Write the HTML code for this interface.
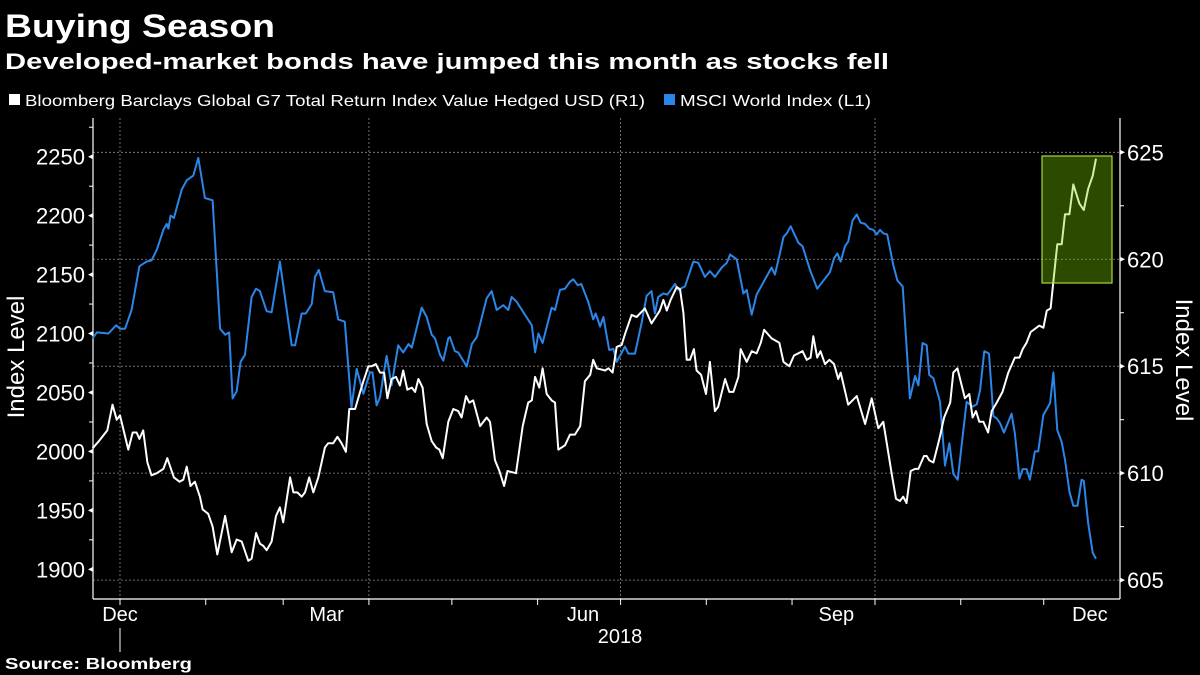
<!DOCTYPE html>
<html><head><meta charset="utf-8"><style>
html,body{margin:0;padding:0;background:#000;width:1200px;height:675px;overflow:hidden}
svg text{font-family:"Liberation Sans",sans-serif;fill:#fff}
</style></head><body>
<svg id="chart" width="1200" height="675" viewBox="0 0 1200 675" xmlns="http://www.w3.org/2000/svg">
<rect width="1200" height="675" fill="#000"/>
<text x="5" y="37" font-size="32" font-weight="bold" textLength="270" lengthAdjust="spacingAndGlyphs">Buying Season</text>
<text x="5" y="69" font-size="22" font-weight="bold" textLength="884" lengthAdjust="spacingAndGlyphs">Developed-market bonds have jumped this month as stocks fell</text>
<rect x="9" y="94" width="11" height="11" fill="#fff"/>
<text x="25" y="106" font-size="16" textLength="620" lengthAdjust="spacingAndGlyphs">Bloomberg Barclays Global G7 Total Return Index Value Hedged USD  (R1)</text>
<rect x="664" y="94" width="11" height="11" fill="#2a86e8"/>
<text x="680" y="106" font-size="16" textLength="191" lengthAdjust="spacingAndGlyphs">MSCI World Index  (L1)</text>
<g id="grid"></g>
<g id="axes"></g>
<g id="series"></g>
<rect x="1042" y="156" width="70" height="127" fill="rgba(128,214,0,0.35)" stroke="#a6d83c" stroke-width="1.2"/>
<text transform="translate(24,357) rotate(-90)" text-anchor="middle" font-size="24">Index Level</text>
<text transform="translate(1176,360) rotate(90)" text-anchor="middle" font-size="24">Index Level</text>
<text x="620" y="643" text-anchor="middle" font-size="20">2018</text>
<line x1="120" y1="628" x2="120" y2="652" stroke="#fff" stroke-width="1"/>
<text x="5" y="669" font-size="16" font-weight="bold" textLength="187" lengthAdjust="spacingAndGlyphs">Source: Bloomberg</text>
</svg>
<script>
// MSCI World Index (left axis) — day offset from 2018-01-01, value
const msciDays = [-9.9,-8.4,-4.2,-1.4,0,1.8,4.2,7.0,9.6,11.4,13.3,15.7,16.9,17.5,18.3,19.5,22.3,24.1,26.5,28.3,30.7,33.5,36.2,38.0,39.5,40.7,42.2,43.6,45.2,47.6,49.2,50.6,53.0,54.8,57.8,62.1,63.3,65.7,67.2,69.3,70.5,71.9,74.1,77.1,78.9,81.3,83.7,85.6,88.0,90.4,91.3,92.8,
94.0,96.4,98.2,100.6,102.4,104.3,105.5,109.1,110.9,112.7,113.9,115.7,116.9,118.7,119.3,121.1,122.3,125.4,127.2,129.0,132.6,134.4,136.2,138.6,140.4,141.6,143.4,146.4,148.9,150.1,151.3,152.8,156.1,157.3,159.1,160.9,162.7,163.9,165.5,166.8,169.3,171.1,172.0,173.6,174.8,176.9,178.4,179.6,182.6,183.8,186.2,188.6,190.4,192.2,193.4,194.6,196.5,197.9,200.7,201.9,204.3,207.3,209.1,211.5,213.3,215.1,217.6,219.4,220.6,223.0,225.4,226.6,228.4,230.2,235.6,236.8,
238.6,239.9,241.1,242.5,245.3,246.8,249.5,252.1,256.7,258.2,259.4,260.6,262.1,263.3,264.9,266.4,267.8,269.4,270.9,272.4,273.6,274.8,276.0,277.4,279.6,281.1,283.0,285.6,287.5,288.7,290.2,291.7,292.6,294.1,296.5,298.3,299.9,301.3,302.9,306.1,308.3,309.8,311.0,312.5,314.2,315.8,317.0,318.2,319.6,322.4,323.6,325.2,326.4,327.8,329.0,330.8,332.0,333.9,336.3,337.5,338.9,340.5,341.7,343.3,344.7,346.2,347.7,348.5,350.1,351.7,352.9];
const msciValues = [2096,2101,2100,2107,2104,2104,2120,2157,2161,2162,2171,2188,2193,2189,2200,2198,2222,2230,2234,2249,2215,2213,2104,2099,2101,2045,2051,2076,2082,2131,2138,2136,2119,2118,2161,2090,2090,2117,2117,2125,2148,2154,2136,2135,2112,2110,2037,2070,2049,2067,2067,2039,
2046,2081,2056,2090,2084,2091,2088,2122,2114,2099,2096,2082,2077,2096,2097,2085,2084,2072,2091,2097,2130,2136,2120,2124,2120,2131,2127,2116,2107,2084,2100,2092,2122,2120,2137,2138,2144,2146,2141,2142,2127,2112,2117,2106,2114,2086,2087,2076,2089,2083,2083,2109,2132,2136,2117,2131,2134,2133,2142,2137,2140,2161,2160,2148,2153,2148,2156,2160,2167,2163,2134,2137,2116,2133,2156,2150,
2168,2182,2185,2191,2177,2174,2154,2138,2152,2164,2168,2161,2174,2178,2196,2201,2194,2193,2189,2188,2184,2188,2185,2184,2158,2145,2140,2045,2064,2056,2092,2090,2065,2062,2042,1988,2007,1981,1976,2042,2038,2040,2052,2085,2083,2030,2028,2024,2016,2032,2015,1977,1985,1985,1976,2000,2000,2031,2041,2067,2018,2008,1993,1966,1954,1954,1976,1975,1939,1914,1909];
// Bloomberg Barclays G7 bond index (right axis)
const bondDays = [-9.9,-7.8,-4.6,-2.7,-1.2,0,3.0,4.6,6.0,7.0,8.4,9.9,11.4,13.3,15.7,17.1,19.5,21.5,22.9,24.1,25.5,27.1,28.9,29.9,31.9,33.5,35.2,38.0,40.4,42.2,44.0,46.4,47.6,49.2,50.6,51.8,53.0,54.8,56.4,57.8,59.0,61.5,62.7,64.1,65.7,66.9,68.4,69.9,71.7,74.1,75.3,77.1,78.6,80.1,81.7,82.9,85.0,86.8,88.0,89.8,91.0,92.5,
94.0,95.5,96.7,98.2,99.8,101.2,102.4,103.9,105.5,106.7,107.9,109.4,110.9,112.7,114.3,115.5,116.7,118.7,120.5,122.3,123.5,125.1,126.3,127.7,130.2,132.6,133.8,135.6,137.2,138.9,140.1,143.2,145.6,147.6,148.9,150.1,151.6,152.8,154.3,156.1,157.3,158.5,160.9,162.7,164.5,166.4,168.1,170.0,171.1,172.4,175.4,176.6,178.1,179.6,181.4,182.6,185.0,186.8,189.8,192.2,195.2,196.5,197.7,199.1,201.3,202.5,203.7,204.9,206.1,207.5,208.5,210.1,211.9,213.3,215.1,216.3,218.8,220.3,221.8,223.6,224.4,226.6,228.4,230.2,231.7,232.9,235.6,238.4,
239.9,242.0,243.7,246.8,248.3,249.7,250.7,252.1,253.3,254.9,256.5,258.2,259.7,260.6,263.3,266.4,269.4,271.8,274.2,276.0,279.0,280.6,282.0,283.2,284.4,285.9,287.5,288.7,290.7,291.7,292.6,294.1,296.3,298.0,300.2,301.3,302.8,305.5,307.1,308.3,309.5,310.7,312.2,313.9,315.2,317.0,319.1,321.2,323.6,325.2,326.4,327.8,329.3,331.4,332.4,333.9,335.1,336.5,337.7,338.9,340.5,341.7,343.3,344.7,346.9,348.5,350.1,351.7,352.9];
const bondValues = [611.16,611.47,612.0,613.2,612.5,612.7,611.1,611.9,611.9,611.6,612.0,610.5,609.9,610.0,610.2,610.7,609.8,609.6,609.7,610.3,609.4,609.6,608.9,608.3,608.1,607.5,606.2,608.0,606.3,606.9,606.8,605.9,606.0,607.2,606.7,606.6,606.4,606.8,608.0,608.4,607.7,609.8,609.1,609.1,608.9,609.1,609.8,609.1,609.8,611.2,611.4,611.4,611.7,611.4,611.0,613.0,613.0,613.8,614.3,615.0,615.0,615.1,
614.7,614.7,613.5,614.4,614.5,614.1,614.8,613.9,614.0,613.8,614.4,614.0,612.3,611.5,611.2,611.1,610.7,612.4,613.0,612.9,612.6,613.6,613.3,613.4,612.2,612.6,612.4,610.6,610.1,609.4,610.1,610.0,612.2,613.3,613.4,614.5,614.0,614.9,613.7,613.4,613.3,611.1,611.3,611.8,611.8,612.2,614.3,614.6,615.3,614.9,614.8,614.9,614.7,615.9,616.0,616.5,617.4,617.3,617.7,617.0,617.6,618.1,617.6,618.1,618.7,618.6,617.5,615.3,615.3,615.8,614.8,614.6,613.7,615.2,612.9,613.1,614.4,613.8,613.8,614.5,615.8,615.2,615.7,615.6,616.1,616.7,616.3,616.1,
615.2,615.0,615.5,615.7,615.3,615.4,616.4,615.4,615.7,615.1,615.3,615.1,614.4,614.7,613.2,613.6,612.3,613.5,612.1,612.4,610.0,608.8,608.7,608.9,608.6,610.1,610.2,610.2,610.8,610.8,610.6,610.5,611.6,612.6,613.3,614.7,614.9,613.5,613.7,612.6,612.9,612.4,612.4,611.9,612.9,613.3,613.8,614.7,615.4,615.4,615.8,616.1,616.6,616.8,616.9,616.8,617.6,617.7,619.2,620.7,620.7,622.1,622.1,623.5,622.6,622.3,623.3,623.9,624.7];
const leftTicks = [1900,1950,2000,2050,2100,2150,2200,2250];
const rightTicks = [605,610,615,620,625];
const monthLabels = ["Dec","Mar","Jun","Sep","Dec"];
const monthLabelDays = [0,74.7,167.4,259,350.7];
const monthTickDays = [0,31,59,90,120,151,181,212,243,273,304,334];
const quarterDays = [0,90,181,273];

const NS="http://www.w3.org/2000/svg";
const X0=93, X1=1120, YT=118, YB=599;
const xOf = d => 120 + d*2.7656;
const yL = v => 156.7 + (2250 - v)*1.1789;
const yR = v => 152.3 + (625 - v)*21.39;
function mk(tag, attrs, parent){const e=document.createElementNS(NS,tag);for(const k in attrs)e.setAttribute(k,attrs[k]);parent.appendChild(e);return e;}
const grid=document.getElementById('grid'), axes=document.getElementById('axes'), series=document.getElementById('series');

rightTicks.forEach(v=>{
  const l=mk('line',{x1:X0,x2:X1,y1:yR(v),y2:yR(v),stroke:'#8a8a8a','stroke-width':0.8,'stroke-dasharray':'2,2'},grid);
  
  
});
quarterDays.forEach(d=>{
  const l=mk('line',{x1:xOf(d),x2:xOf(d),y1:YT,y2:YB,stroke:'#8a8a8a','stroke-width':0.8,'stroke-dasharray':'2,2'},grid);
  
  
});

let a=mk('line',{x1:X0,x2:X0,y1:YT,y2:YB,stroke:'#fff','stroke-width':1.2},axes);


a=mk('line',{x1:X1,x2:X1,y1:YT,y2:YB,stroke:'#fff','stroke-width':1.2},axes);


a=mk('line',{x1:X0,x2:X1,y1:YB,y2:YB,stroke:'#fff','stroke-width':1.2},axes);



leftTicks.forEach(v=>{
  const y=yL(v);
  const p=mk('path',{d:`M${X0} ${y-2.5} L${X0-5} ${y} L${X0} ${y+2.5}Z`,fill:'#fff'},axes);
  
  
  const m=mk('line',{x1:X0-4,x2:X0,y1:yL(v+25),y2:yL(v+25),stroke:'#fff','stroke-width':1},axes);
  
  
  const t=mk('text',{x:X0-8,y:y+8,'text-anchor':'end','font-size':22},axes);
  t.textContent=v;
  
  
});
rightTicks.forEach(v=>{
  const y=yR(v);
  const p=mk('path',{d:`M${X1} ${y-2.5} L${X1+5} ${y} L${X1} ${y+2.5}Z`,fill:'#fff'},axes);
  
  
  if(v<625){
    const m=mk('line',{x1:X1,x2:X1+4,y1:yR(v+2.5),y2:yR(v+2.5),stroke:'#fff','stroke-width':1},axes);
    
    
  }
  const t=mk('text',{x:X1+7,y:y+8,'font-size':22},axes);
  t.textContent=v;
  
  
});
monthTickDays.forEach(d=>{
  const l=mk('line',{x1:xOf(d),x2:xOf(d),y1:YB,y2:YB+6,stroke:'#fff','stroke-width':1},axes);
  
  
});
monthLabels.forEach((s,i)=>{
  const t=mk('text',{x:xOf(monthLabelDays[i]),y:621,'text-anchor':'middle','font-size':20},axes);
  t.textContent=s;
  
  
});

function line(days, vals, yf, color, name){
  const d=days.map((dd,i)=>(i?'L':'M')+xOf(dd).toFixed(1)+' '+yf(vals[i]).toFixed(1)).join(' ');
  const p=mk('path',{d:d,fill:'none',stroke:color,'stroke-width':2,'stroke-linejoin':'round'},series);
  
  
}
line(msciDays,msciValues,yL,'#2a86e8','msci-world-line');
line(bondDays,bondValues,yR,'#ffffff','g7-bond-index-line');
</script>
</body></html>
